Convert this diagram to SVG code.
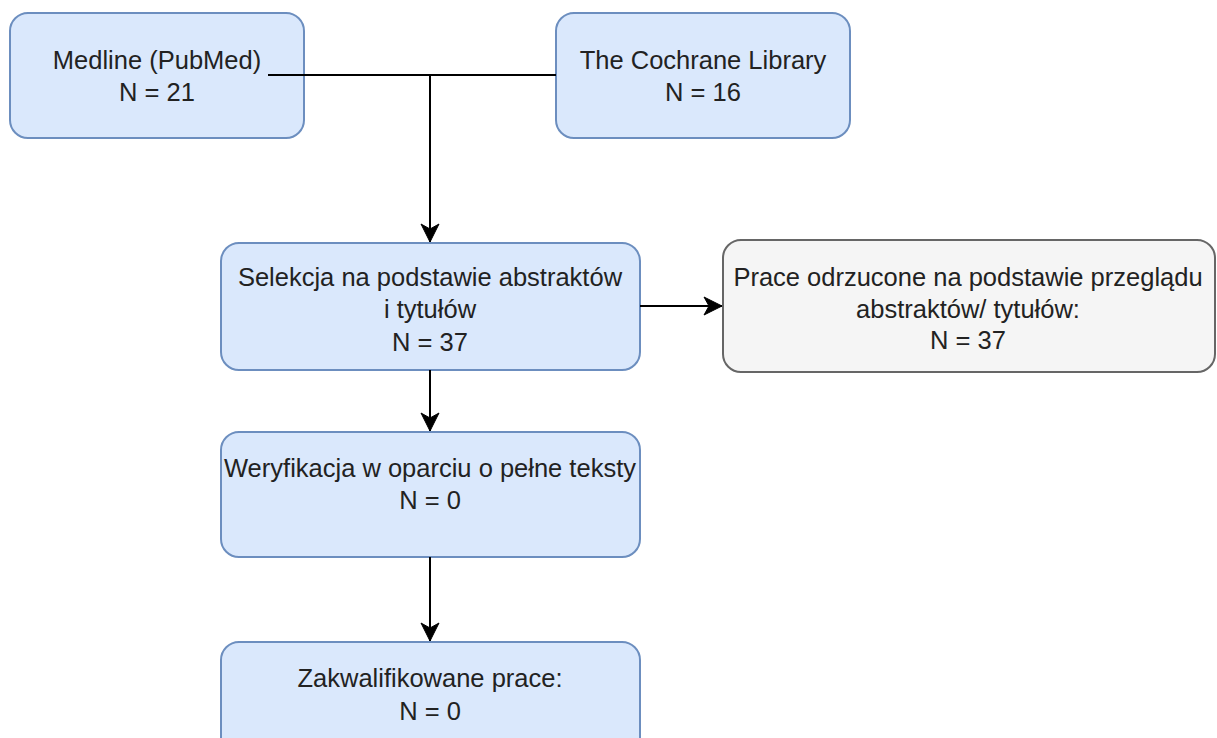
<svg xmlns="http://www.w3.org/2000/svg" width="1217" height="738" viewBox="0 0 1217 738">
<style>
.blue{fill:#dae8fc;stroke:#6c8ebf;stroke-width:2}
.gray{fill:#f5f5f5;stroke:#666666;stroke-width:2}
.t{font-family:"Liberation Sans",Arial,sans-serif;font-size:25.5px;fill:#222222;text-anchor:middle}
.c{fill:none;stroke:#000000;stroke-width:2}
</style>
<defs>
<marker id="ah" viewBox="0 0 20 20" refX="19" refY="10" markerWidth="20" markerHeight="20" markerUnits="userSpaceOnUse" orient="auto">
<path d="M1,1 L19,10 L1,19 L6,10 Z" fill="#000000" stroke="#000000" stroke-width="1"/>
</marker>
</defs>
<rect width="1217" height="738" fill="#ffffff"/>
<g id="medline">
<rect class="blue" x="10" y="13" width="294" height="125" rx="18"/>
<text class="t" x="157" y="69">Medline (PubMed)</text>
<text class="t" x="157" y="101">N = 21</text>
</g>
<g id="cochrane">
<rect class="blue" x="556" y="13" width="294" height="125" rx="18"/>
<text class="t" x="703" y="69">The Cochrane Library</text>
<text class="t" x="703" y="101">N = 16</text>
</g>
<g id="selekcja">
<rect class="blue" x="221" y="243" width="419" height="127" rx="18"/>
<text class="t" x="430" y="286">Selekcja na podstawie abstraktów</text>
<text class="t" x="430" y="318">i tytułów</text>
<text class="t" x="430" y="351">N = 37</text>
</g>
<g id="odrzucone">
<rect class="gray" x="723" y="240" width="492" height="132" rx="18"/>
<text class="t" x="968" y="286">Prace odrzucone na podstawie przeglądu</text>
<text class="t" x="968" y="318">abstraktów/ tytułów:</text>
<text class="t" x="968" y="349">N = 37</text>
</g>
<g id="weryfikacja">
<rect class="blue" x="221" y="432" width="419" height="125" rx="18"/>
<text class="t" x="430" y="477">Weryfikacja w oparciu o pełne teksty</text>
<text class="t" x="430" y="509">N = 0</text>
</g>
<g id="zakwalifikowane">
<rect class="blue" x="221" y="642" width="419" height="125" rx="18"/>
<text class="t" x="430" y="687">Zakwalifikowane prace:</text>
<text class="t" x="430" y="720">N = 0</text>
</g>
<g id="connectors">
<path class="c" d="M268,75 H556"/>
<path class="c" d="M430,75 V242" marker-end="url(#ah)"/>
<path class="c" d="M640,306 H722" marker-end="url(#ah)"/>
<path class="c" d="M430,370 V431" marker-end="url(#ah)"/>
<path class="c" d="M430,557 V641" marker-end="url(#ah)"/>
</g>
</svg>
